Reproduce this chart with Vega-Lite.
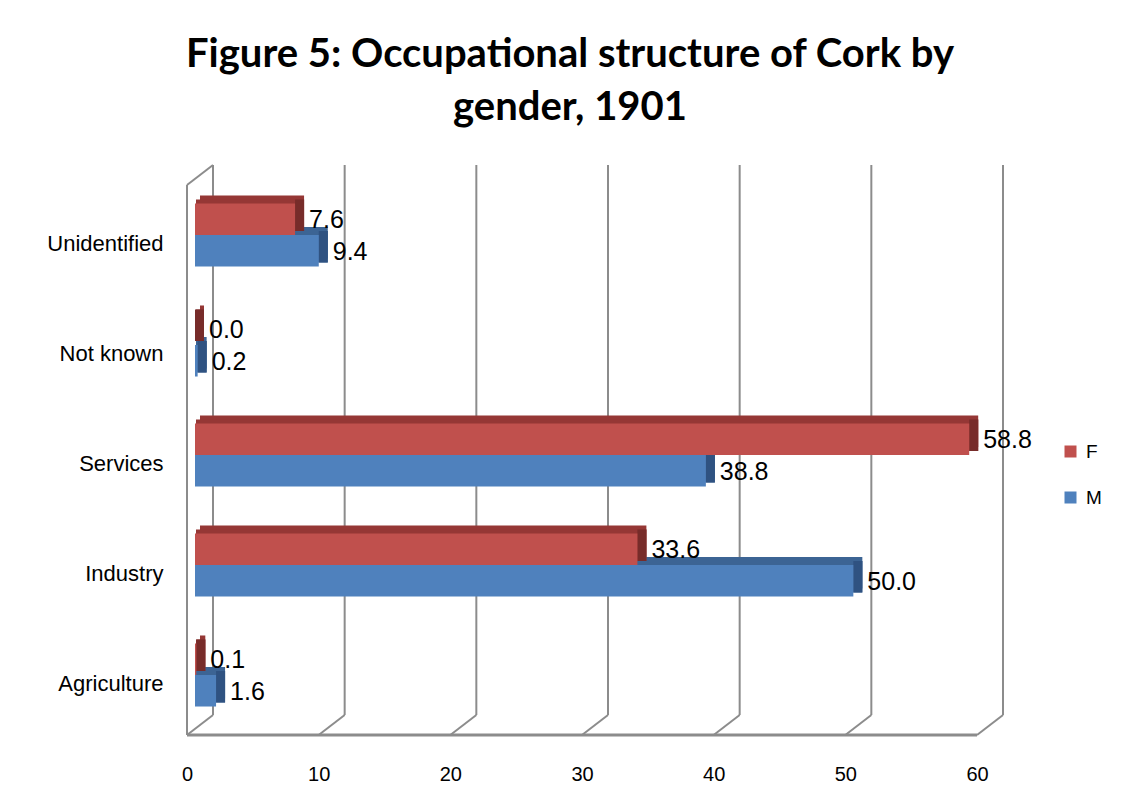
{
  "$schema": "https://vega.github.io/schema/vega-lite/v6.json",
  "width": 790,
  "height": 550,
  "autosize": {"type": "none"},
  "padding": {"left": 187, "top": 180, "right": 144, "bottom": 82},
  "background": "white",
  "title": {
    "text": ["Figure 5: Occupational structure of Cork by", "gender, 1901"],
    "font": "Lato",
    "fontWeight": "bold",
    "fontSize": 40,
    "color": "black",
    "anchor": "middle",
    "dx": -12,
    "offset": 36,
    "lineHeight": 53
  },
  "datasets": {
    "bars": [
      {"category": "Unidentified", "sex": "F", "value": 7.6},
      {"category": "Unidentified", "sex": "M", "value": 9.4},
      {"category": "Not known", "sex": "F", "value": 0.0},
      {"category": "Not known", "sex": "M", "value": 0.2},
      {"category": "Services", "sex": "F", "value": 58.8},
      {"category": "Services", "sex": "M", "value": 38.8},
      {"category": "Industry", "sex": "F", "value": 33.6},
      {"category": "Industry", "sex": "M", "value": 50.0},
      {"category": "Agriculture", "sex": "F", "value": 0.1},
      {"category": "Agriculture", "sex": "M", "value": 1.6}
    ],
    "ticks": [{"v": 0}, {"v": 10}, {"v": 20}, {"v": 30}, {"v": 40}, {"v": 50}, {"v": 60}],
    "wall": [{"v": 0, "e": 60}]
  },
  "layer": [
    {
      "data": {"name": "ticks"},
      "mark": {"type": "rule", "color": "#8c8c8c", "strokeWidth": 2, "xOffset": 26, "yOffset": -20, "y2Offset": -20},
      "encoding": {
        "x": {"field": "v", "type": "quantitative", "scale": {"domain": [0, 60], "nice": false}, "axis": {"title": null, "values": [0, 10, 20, 30, 40, 50, 60]}},
        "y": {"datum": 0, "type": "quantitative", "scale": {"domain": [0.00909, 1.00909]}, "axis": null},
        "y2": {"datum": 1}
      }
    },
    {
      "data": {"name": "ticks"},
      "mark": {"type": "rule", "color": "#8c8c8c", "strokeWidth": 2, "x2Offset": 26, "y2Offset": -20},
      "encoding": {
        "x": {"field": "v", "type": "quantitative", "axis": {"title": null, "values": [0, 10, 20, 30, 40, 50, 60]}},
        "x2": {"field": "v"},
        "y": {"datum": 0, "type": "quantitative", "scale": {"domain": [0.00909, 1.00909]}, "axis": null},
        "y2": {"datum": 0}
      }
    },
    {
      "data": {"name": "wall"},
      "mark": {"type": "rule", "color": "#8c8c8c", "strokeWidth": 3},
      "encoding": {
        "x": {"field": "v", "type": "quantitative", "axis": {"title": null, "values": [0, 10, 20, 30, 40, 50, 60]}},
        "x2": {"field": "e"},
        "y": {"datum": 0, "type": "quantitative", "scale": {"domain": [0.00909, 1.00909]}, "axis": null},
        "y2": {"datum": 0}
      }
    },
    {
      "data": {"name": "wall"},
      "mark": {"type": "rule", "color": "#8c8c8c", "strokeWidth": 2},
      "encoding": {
        "x": {"field": "v", "type": "quantitative", "axis": {"title": null, "values": [0, 10, 20, 30, 40, 50, 60]}},
        "y": {"datum": 0, "type": "quantitative", "scale": {"domain": [0.00909, 1.00909]}, "axis": null},
        "y2": {"datum": 1}
      }
    },
    {
      "data": {"name": "wall"},
      "mark": {"type": "rule", "color": "#8c8c8c", "strokeWidth": 2, "x2Offset": 26, "y2Offset": -20},
      "encoding": {
        "x": {"field": "v", "type": "quantitative", "axis": {"title": null, "values": [0, 10, 20, 30, 40, 50, 60]}},
        "x2": {"field": "v"},
        "y": {"datum": 1, "type": "quantitative", "scale": {"domain": [0.00909, 1.00909]}, "axis": null},
        "y2": {"datum": 1}
      }
    },
    {
      "data": {"name": "bars"},
      "mark": {"type": "bar", "xOffset": 17, "x2Offset": 13},
      "encoding": {
        "x": {"field": "value", "type": "quantitative", "axis": {"title": null, "values": [0, 10, 20, 30, 40, 50, 60]}},
        "x2": {"datum": 0},
        "y": {"field": "category", "type": "nominal", "sort": ["Unidentified", "Not known", "Services", "Industry", "Agriculture"], "scale": {"range": [-8, 542], "paddingInner": 0.427, "paddingOuter": 0.2135}, "axis": null},
        "yOffset": {"field": "sex", "type": "nominal"},
        "color": {"condition": {"test": "datum.sex === 'F'", "value": "#953735"}, "value": "#3C6494"}
      }
    },
    {
      "data": {"name": "bars"},
      "mark": {"type": "bar", "xOffset": 17, "x2Offset": 9},
      "encoding": {
        "x": {"field": "value", "type": "quantitative", "axis": {"title": null, "values": [0, 10, 20, 30, 40, 50, 60]}},
        "x2": {"datum": 0},
        "y": {"field": "category", "type": "nominal", "sort": ["Unidentified", "Not known", "Services", "Industry", "Agriculture"], "scale": {"range": [-4, 546], "paddingInner": 0.427, "paddingOuter": 0.2135}, "axis": null},
        "yOffset": {"field": "sex", "type": "nominal"},
        "color": {"condition": {"test": "datum.sex === 'F'", "value": "#953735"}, "value": "#3C6494"}
      }
    },
    {
      "data": {"name": "bars"},
      "mark": {"type": "bar", "xOffset": 8, "x2Offset": 17},
      "encoding": {
        "x": {"field": "value", "type": "quantitative", "axis": {"title": null, "values": [0, 10, 20, 30, 40, 50, 60]}},
        "x2": {"field": "value"},
        "y": {"field": "category", "type": "nominal", "sort": ["Unidentified", "Not known", "Services", "Industry", "Agriculture"], "scale": {"range": [-4, 546], "paddingInner": 0.427, "paddingOuter": 0.2135}, "axis": null},
        "yOffset": {"field": "sex", "type": "nominal"},
        "color": {"condition": {"test": "datum.sex === 'F'", "value": "#772C2A"}, "value": "#2F5281"}
      }
    },
    {
      "data": {"name": "bars"},
      "mark": {"type": "bar", "xOffset": 8, "x2Offset": 8},
      "encoding": {
        "x": {"field": "value", "type": "quantitative", "axis": {"title": null, "values": [0, 10, 20, 30, 40, 50, 60]}},
        "x2": {"datum": 0},
        "y": {"field": "category", "type": "nominal", "sort": ["Unidentified", "Not known", "Services", "Industry", "Agriculture"], "scale": {"paddingInner": 0.427, "paddingOuter": 0.2135}, "axis": {"title": null, "labelOffset": 9}},
        "yOffset": {"field": "sex", "type": "nominal"},
        "color": {"field": "sex", "type": "nominal", "scale": {"domain": ["F", "M"], "range": ["#C0504D", "#4F81BD"]}, "legend": {"title": null, "orient": "none", "legendX": 874, "legendY": 262, "symbolType": "square", "symbolSize": 144, "symbolStrokeWidth": 0, "labelFontSize": 19, "labelFont": "Liberation Sans", "labelColor": "black", "rowPadding": 26, "labelOffset": 6}}
      }
    },
    {
      "data": {"name": "bars"},
      "mark": {"type": "text", "align": "left", "baseline": "middle", "dx": 22, "dy": 1, "fontSize": 25, "font": "Liberation Sans", "color": "black"},
      "encoding": {
        "x": {"field": "value", "type": "quantitative", "axis": {"title": null, "values": [0, 10, 20, 30, 40, 50, 60]}},
        "y": {"field": "category", "type": "nominal", "sort": ["Unidentified", "Not known", "Services", "Industry", "Agriculture"], "scale": {"paddingInner": 0.427, "paddingOuter": 0.2135}, "axis": null},
        "yOffset": {"field": "sex", "type": "nominal"},
        "text": {"field": "value", "type": "quantitative", "format": ".1f"}
      }
    }
  ],
  "resolve": {"scale": {"y": "independent"}},
  "config": {
    "view": {"stroke": null},
    "axisX": {"ticks": false, "domain": false, "grid": false, "labelFlush": false, "labelPadding": 34, "labelFontSize": 20, "labelFont": "Liberation Sans", "labelColor": "black"},
    "axisY": {"ticks": false, "domain": false, "grid": false, "labelPadding": 24, "labelFontSize": 22, "labelFont": "Liberation Sans", "labelColor": "black"}
  }
}
